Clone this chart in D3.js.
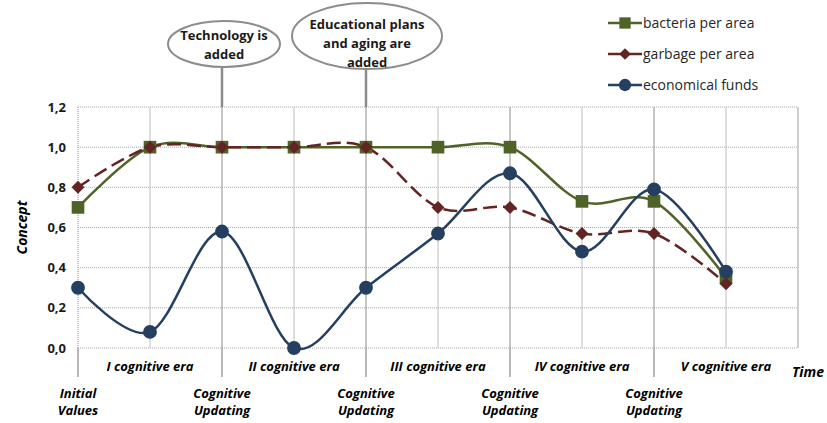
<!DOCTYPE html>
<html>
<head>
<meta charset="utf-8">
<script src="https://cdn.jsdelivr.net/npm/d3@7"></script>
<style>
  body { margin: 0; background: #fff; }
  svg { font-family: "Open Sans", "Noto Sans", sans-serif; }
</style>
</head>
<body>
<div id="chart"></div>
<script>
// data
const bacteria = [0.70, 1.00, 1.00, 1.00, 1.00, 1.00, 1.00, 0.73, 0.73, 0.35];
const garbage  = [0.80, 1.00, 1.00, 1.00, 1.00, 0.70, 0.70, 0.57, 0.57, 0.32];
const funds    = [0.30, 0.08, 0.58, 0.00, 0.30, 0.57, 0.87, 0.48, 0.79, 0.38];
const eras = ["I cognitive era", "II cognitive era", "III cognitive era", "IV cognitive era", "V cognitive era"];
const stages = [["Initial", "Values"], ["Cognitive", "Updating"], ["Cognitive", "Updating"], ["Cognitive", "Updating"], ["Cognitive", "Updating"]];
const yTicks = [0, 0.2, 0.4, 0.6, 0.8, 1.0, 1.2];
const seriesNames = ["bacteria per area", "garbage per area", "economical funds"];
const callouts = [
  {at: 2, lines: ["Technology is", "added"]},
  {at: 4, lines: ["Educational plans", "and aging are", "added"]}
];

const w = 827, h = 423;
const svg = d3.select("#chart").append("svg").attr("width", w).attr("height", h);

const x = d3.scaleLinear().domain([0, 10]).range([78, 798]);
const y = d3.scaleLinear().domain([0, 1.2]).range([348, 107]);

const grid = svg.append("g");
// horizontal dotted gridlines
grid.selectAll(".hg").data(yTicks).enter().append("line")
    .attr("x1", x(0)).attr("x2", x(10))
    .attr("y1", d => y(d)).attr("y2", d => y(d))
    .attr("stroke", "#a6a6a6").attr("stroke-width", 1).attr("stroke-dasharray", "1,1");
// vertical gridlines
grid.selectAll(".vg").data(d3.range(1, 10)).enter().append("line")
    .attr("x1", d => x(d)).attr("x2", d => x(d))
    .attr("y1", y(1.2)).attr("y2", y(0))
    .attr("stroke", d => d % 2 == 0 ? "#a0a0a0" : "#c8c8c8").attr("stroke-width", 1.2);
// left dotted axis line and right border
grid.append("line").attr("x1", x(0)).attr("x2", x(0)).attr("y1", y(1.2)).attr("y2", y(0))
    .attr("stroke", "#8c8c8c").attr("stroke-dasharray", "1,1");
grid.append("line").attr("x1", x(10)).attr("x2", x(10)).attr("y1", y(1.2)).attr("y2", y(0))
    .attr("stroke", "#b0b0b0").attr("stroke-width", 1.2);

// long category ticks below the axis
grid.selectAll(".lt").data([0, 2, 4, 6, 8]).enter().append("line")
    .attr("x1", d => x(d)).attr("x2", d => x(d))
    .attr("y1", y(0)).attr("y2", y(0) + 29)
    .attr("stroke", "#a0a0a0").attr("stroke-width", 1.5);

// y tick labels
svg.selectAll(".yl").data(yTicks).enter().append("text")
    .attr("x", 66).attr("y", d => y(d) + 4.5)
    .attr("text-anchor", "end").attr("font-size", 13).attr("font-weight", "bold").attr("fill", "#1a1a1a")
    .text(d => d.toFixed(1).replace(".", ","));

svg.append("text")
    .attr("transform", "translate(27," + (y(0.6)) + ") rotate(-90)")
    .attr("text-anchor", "middle").attr("font-size", 14).attr("font-weight", "bold").attr("font-style", "italic")
    .text("Concept");

// era labels
svg.selectAll(".era").data(eras).enter().append("text")
    .attr("x", (d, i) => x(2 * i + 1)).attr("y", 371)
    .attr("text-anchor", "middle").attr("font-size", 13).attr("font-weight", "bold").attr("font-style", "italic")
    .text(d => d);

const st = svg.selectAll(".stage").data(stages).enter().append("text")
    .attr("text-anchor", "middle").attr("font-size", 13).attr("font-weight", "bold").attr("font-style", "italic");
st.append("tspan").attr("x", (d, i) => x(2 * i)).attr("y", 398).text(d => d[0]);
st.append("tspan").attr("x", (d, i) => x(2 * i)).attr("y", 415).text(d => d[1]);

svg.append("text").attr("x", 824).attr("y", 377).attr("text-anchor", "end")
    .attr("font-size", 14).attr("font-weight", "bold").attr("font-style", "italic").text("Time");

// series
const line = d3.line().x((d, i) => x(i)).y(d => y(d)).curve(d3.curveCatmullRom.alpha(0));
const colors = ["#4f6228", "#632523", "#243f60"];
const symbols = [d3.symbolSquare, d3.symbolSquare, d3.symbolCircle];
const sizes = [160, 85, 150];
const rot = [0, 45, 0];
const dashes = [null, "14,6", null];
[bacteria, garbage, funds].forEach((s, k) => {
  svg.append("path").datum(s).attr("d", line)
     .attr("fill", "none").attr("stroke", colors[k]).attr("stroke-width", 2.5)
     .attr("stroke-dasharray", dashes[k]);
});
[bacteria, garbage, funds].forEach((s, k) => {
  svg.selectAll(".m" + k).data(s).enter().append("path")
     .attr("d", d3.symbol().type(symbols[k]).size(sizes[k]))
     .attr("transform", (d, i) => "translate(" + x(i) + "," + y(d) + ") rotate(" + rot[k] + ")")
     .attr("fill", colors[k]);
});

// legend
const legend = svg.append("g");
seriesNames.forEach((n, k) => {
  const ly = 23 + k * 31;
  legend.append("line").attr("x1", 608).attr("x2", 642).attr("y1", ly).attr("y2", ly)
    .attr("stroke", colors[k]).attr("stroke-width", 2.5).attr("stroke-dasharray", k == 1 ? "16,5" : null);
  legend.append("path").attr("d", d3.symbol().type(symbols[k]).size(sizes[k] * 0.8))
    .attr("transform", "translate(625," + ly + ") rotate(" + rot[k] + ")").attr("fill", colors[k]);
  legend.append("text").attr("x", 643).attr("y", ly + 5).attr("font-size", 14).attr("fill", "#262626").text(n);
});

// callouts
const ell = [{cx: 224, cy: 44, rx: 56, ry: 23, top: 40}, {cx: 367, cy: 36, rx: 75, ry: 33, top: 29}];
callouts.forEach((c, k) => {
  const e = ell[k];
  svg.append("line").attr("x1", x(c.at)).attr("x2", x(c.at)).attr("y1", e.cy + e.ry).attr("y2", y(1.2))
     .attr("stroke", "#8c8c8c").attr("stroke-width", 2.5);
  svg.append("ellipse").attr("cx", e.cx).attr("cy", e.cy).attr("rx", e.rx).attr("ry", e.ry)
     .attr("fill", "#fff").attr("stroke", "#8c8c8c").attr("stroke-width", 2);
  const t = svg.append("text").attr("text-anchor", "middle").attr("font-size", 13).attr("font-weight", "bold").attr("fill", "#1a1a1a");
  c.lines.forEach((l, j) => {
    t.append("tspan").attr("x", e.cx).attr("y", e.top + j * 19).text(l);
  });
});
</script>
</body>
</html>
